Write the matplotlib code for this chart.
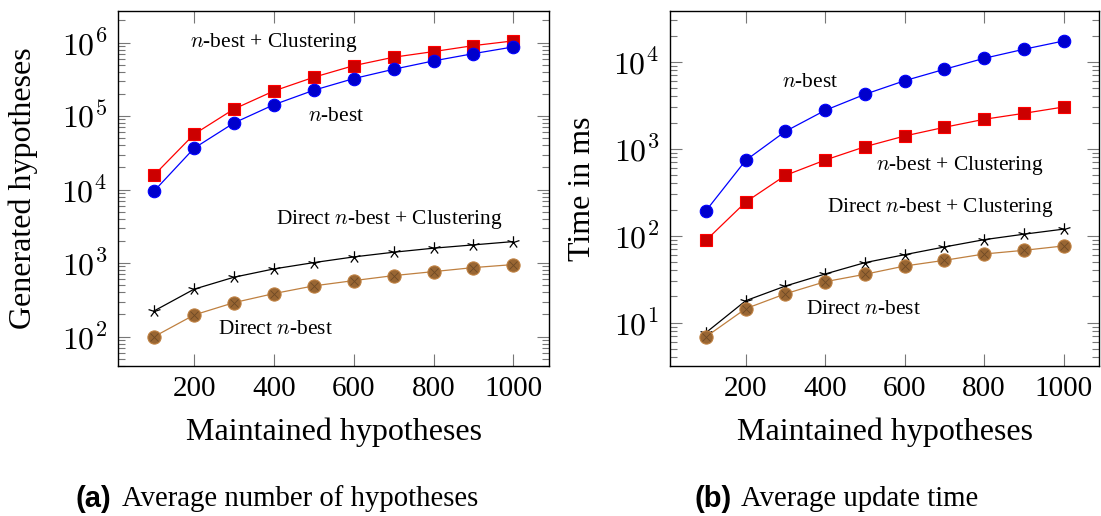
import numpy as np
import matplotlib
matplotlib.use("Agg")
import matplotlib.pyplot as plt
from matplotlib.path import Path
from matplotlib.ticker import LogLocator, FuncFormatter, NullLocator, FixedLocator

plt.rcParams["font.family"] = ["Liberation Serif", "DejaVu Serif"]
plt.rcParams["mathtext.fontset"] = "cm"

# ---------------------------------------------------------------- data
maintained = [100, 200, 300, 400, 500, 600, 700, 800, 900, 1000]
xticks = [200, 400, 600, 800, 1000]

# (a) generated hypotheses
gen_nbest = [9600, 36600, 80800, 143000, 225000, 324000, 434000, 564000, 708000, 874000]
gen_nbest_clust = [15800, 56700, 125000, 220000, 338000, 486000, 633000, 755000, 910000, 1055000]
gen_direct = [100, 197, 290, 385, 490, 578, 676, 766, 869, 955]
gen_direct_clust = [224, 442, 643, 834, 1016, 1214, 1406, 1596, 1770, 1963]

# (b) update time in ms
time_nbest = [194, 736, 1585, 2763, 4220, 6050, 8180, 10940, 13900, 17300]
time_nbest_clust = [88.5, 244, 494, 741, 1054, 1400, 1762, 2178, 2550, 3015]
time_direct = [6.9, 14.5, 21.5, 29.6, 36, 44.8, 52.1, 61.6, 67.9, 76.2]
time_direct_clust = [7.7, 17.9, 26.4, 36.3, 49, 60.5, 74.2, 90, 104, 119]

# ---------------------------------------------------------------- styling
W, H = 1101, 516
fig = plt.figure(figsize=(W / 100, H / 100), dpi=100)

def px_axes(x0, x1, y0, y1):
    return fig.add_axes([x0 / W, 1 - y1 / H, (x1 - x0) / W, (y1 - y0) / H])

# five-spoke pgfplots style star
ang = np.deg2rad(90 + 72 * np.arange(5))
verts, codes = [], []
for a in ang:
    verts += [(0, 0), (np.cos(a), np.sin(a))]
    codes += [Path.MOVETO, Path.LINETO]
STAR = Path(verts, codes)

BROWN = "#bf8040"
BROWN_FILL = "#996633"
LBL = 23
ANN = 15.4

def draw(ax, nb, nbc, d, dc):
    ax.plot(maintained, nbc, color="red", lw=0.9, marker="s", ms=8.5,
            mfc="#cc0000", mec="red", mew=0.8, zorder=3)
    ax.plot(maintained, nb, color="blue", lw=0.9, marker="o", ms=9,
            mfc="#0000cc", mec="blue", mew=0.8, zorder=3)
    ax.plot(maintained, dc, color="black", lw=0.9, marker=STAR, ms=9,
            mew=0.9, fillstyle="none", zorder=3)
    ax.plot(maintained, d, color=BROWN, lw=0.9, marker="o", ms=9.5,
            mfc=BROWN_FILL, mec=BROWN, mew=0.8, zorder=3)
    ax.plot(maintained, d, ls="none", marker="x", ms=6, mec="#6e4a26",
            mew=0.6, zorder=4)

def style(ax, ylim):
    ax.set_yscale("log")
    ax.set_xlim(10, 1090)
    ax.set_ylim(*ylim)
    ax.xaxis.set_major_locator(FixedLocator(xticks))
    ax.xaxis.set_minor_locator(NullLocator())
    ax.yaxis.set_major_locator(LogLocator(base=10, numticks=20))
    ax.yaxis.set_minor_locator(LogLocator(base=10, subs=np.arange(2, 10), numticks=20))
    ax.yaxis.set_major_formatter(FuncFormatter(
        lambda v, _: f"$10^{{{int(round(np.log10(v)))}}}$"))
    ax.tick_params(which="both", direction="in", top=True, right=True,
                   color="#777777", width=0.8, labelsize=21)
    ax.tick_params(which="major", length=8.5)
    ax.tick_params(which="minor", length=4.8)
    ax.tick_params(axis="x", pad=7)
    ax.tick_params(axis="y", pad=8)
    ax.yaxis.set_tick_params(labelsize=23)
    for s in ax.spines.values():
        s.set_linewidth(1.0)

def labels(ax, ylab, ylab_x):
    ax.set_xlabel("Maintained hypotheses", fontsize=LBL)
    ax.set_ylabel(ylab, fontsize=LBL)
    ax.xaxis.set_label_coords(0.5, -0.186)
    ax.xaxis.label.set_va("center")
    ax.yaxis.set_label_coords(ylab_x, 0.5)
    ax.yaxis.label.set_va("center")

# ---------------------------------------------------------------- (a)
ax1 = px_axes(118.3, 549.3, 11, 366)
draw(ax1, gen_nbest, gen_nbest_clust, gen_direct, gen_direct_clust)
style(ax1, (10 ** 1.6, 10 ** 6.43))
labels(ax1, "Generated hypotheses", -0.221)
ax1.text(400, 1.0e6, "$n$-best + Clustering", fontsize=ANN, ha="center", va="center")
ax1.text(556, 1.0e5, "$n$-best", fontsize=ANN, ha="center", va="center")
ax1.text(690, 3870, "Direct $n$-best + Clustering", fontsize=ANN, ha="center", va="center")
ax1.text(404, 123, "Direct $n$-best", fontsize=ANN, ha="center", va="center")

# ---------------------------------------------------------------- (b)
ax2 = px_axes(670.3, 1099.3, 11, 366)
draw(ax2, time_nbest, time_nbest_clust, time_direct, time_direct_clust)
style(ax2, (10 ** 0.502, 10 ** 4.583))
labels(ax2, "Time in ms", -0.2035)
ax2.text(363, 5800, "$n$-best", fontsize=ANN, ha="center", va="center")
ax2.text(740, 638, "$n$-best + Clustering", fontsize=ANN, ha="center", va="center")
ax2.text(690, 212, "Direct $n$-best + Clustering", fontsize=ANN, ha="center", va="center")
ax2.text(496, 14.3, "Direct $n$-best", fontsize=ANN, ha="center", va="center")

# ---------------------------------------------------------------- captions
for (xa, xt, tag, txt) in [(75, 121.7, "(a)", "Average number of hypotheses"),
                           (695, 741, "(b)", "Average update time")]:
    fig.text(xa / W, 1 - 499 / H, tag, fontsize=21, fontweight="bold",
             family="Liberation Sans", ha="left", va="center")
    fig.text(xt / W, 1 - 499 / H, txt, fontsize=20.7, ha="left", va="center")

fig.savefig("out.png", dpi=100)
